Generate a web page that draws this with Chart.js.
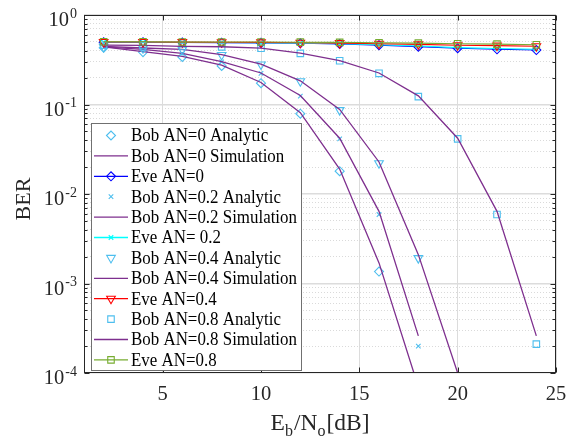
<!DOCTYPE html>
<html><head><meta charset="utf-8">
<style>html,body{margin:0;padding:0;background:#fff;overflow:hidden}</style>
<script src="https://cdn.jsdelivr.net/npm/chart.js@4/dist/chart.umd.min.js"></script>
</head><body>
<canvas id="c" width="580" height="443" style="width:580px;height:443px;display:block"></canvas>
<script>
// ---- data ----
const snr = [2, 4, 6, 8, 10, 12, 14, 16, 18, 20, 22, 24];
const bobAnalytic0  = [0.43, 0.385, 0.34, 0.27, 0.173, 0.079, 0.018, 0.00136, null, null, null, null];
const bobSim0       = [0.44, 0.39, 0.345, 0.275, 0.176, 0.081, 0.019, 0.0017, 0.00007, null, null, null];
const eve0          = [0.495, 0.495, 0.493, 0.49, 0.488, 0.483, 0.475, 0.46, 0.443, 0.425, 0.414, 0.406];
const bobAnalytic02 = [0.436, 0.41, 0.37, 0.30, 0.223, 0.124, 0.0413, 0.0059, 0.0002, null, null, null];
const bobSim02      = [0.44, 0.412, 0.372, 0.302, 0.225, 0.126, 0.042, 0.0064, 0.00026, null, null, null];
const eve02         = [0.497, 0.497, 0.495, 0.493, 0.49, 0.485, 0.478, 0.465, 0.45, 0.432, 0.422, 0.415];
const bobAnalytic04 = [0.44, 0.425, 0.41, 0.358, 0.28, 0.182, 0.0865, 0.0221, 0.00192, null, null, null];
const bobSim04      = [0.445, 0.428, 0.412, 0.36, 0.282, 0.184, 0.088, 0.0228, 0.0021, 0.0001, null, null];
const eve04         = [0.5, 0.5, 0.498, 0.497, 0.495, 0.49, 0.485, 0.477, 0.47, 0.46, 0.455, 0.448];
const bobAnalytic08 = [0.46, 0.455, 0.445, 0.44, 0.425, 0.373, 0.308, 0.223, 0.1225, 0.0413, 0.0059, 0.00021];
const bobSim08      = [0.46, 0.457, 0.447, 0.442, 0.427, 0.375, 0.31, 0.225, 0.125, 0.042, 0.0064, 0.00026];
const eve08         = [0.502, 0.502, 0.5, 0.5, 0.5, 0.497, 0.494, 0.49, 0.485, 0.478, 0.473, 0.466];

const seriesLabels = ['Bob AN=0 Analytic', 'Bob AN=0 Simulation', 'Eve AN=0',
  'Bob AN=0.2 Analytic', 'Bob AN=0.2 Simulation', 'Eve AN= 0.2',
  'Bob AN=0.4 Analytic', 'Bob AN=0.4 Simulation', 'Eve AN=0.4',
  'Bob AN=0.8 Analytic', 'Bob AN=0.8 Simulation', 'Eve AN=0.8'];
const xTicks = [5, 10, 15, 20, 25];
const yDecadeExponents = [-4, -3, -2, -1, 0];
const yMinorMultipliers = [2, 3, 4, 5, 6, 7, 8, 9];

// ---- styles ----
const FONT = "'Liberation Serif','Times New Roman',serif";
const LIGHTBLUE = '#4DBEEE', PURPLE = '#7E2F8E';
function pts(arr) { return snr.map((x, i) => ({x: x, y: arr[i]})).filter(p => p.y !== null); }

const defs = [
  {data: bobAnalytic0, kind: 'marker', color: LIGHTBLUE, style: 'rectRot', r: 4.5, rot: 0},
  {data: bobSim0, kind: 'line', color: PURPLE},
  {data: eve0, kind: 'both', color: '#0000FF', style: 'rectRot', r: 4.5, rot: 0},
  {data: bobAnalytic02, kind: 'marker', color: LIGHTBLUE, style: 'crossRot', r: 3.2, rot: 0},
  {data: bobSim02, kind: 'line', color: PURPLE},
  {data: eve02, kind: 'both', color: '#00FFFF', style: 'crossRot', r: 3.2, rot: 0},
  {data: bobAnalytic04, kind: 'marker', color: LIGHTBLUE, style: 'triangle', r: 5, rot: 180},
  {data: bobSim04, kind: 'line', color: PURPLE},
  {data: eve04, kind: 'both', color: '#FF0000', style: 'triangle', r: 5, rot: 180},
  {data: bobAnalytic08, kind: 'marker', color: LIGHTBLUE, style: 'rect', r: 4.6, rot: 0},
  {data: bobSim08, kind: 'line', color: PURPLE},
  {data: eve08, kind: 'both', color: '#77AC30', style: 'rect', r: 4.6, rot: 0}
];

const datasets = defs.map((d, i) => ({
  label: seriesLabels[i],
  data: pts(d.data),
  showLine: d.kind !== 'marker',
  borderColor: d.color,
  backgroundColor: 'rgba(0,0,0,0)',
  borderWidth: d.kind === 'line' ? 1.3 : 1.1,
  pointRadius: d.kind === 'line' ? 0 : d.r,
  pointStyle: d.style || 'circle',
  pointRotation: d.rot || 0,
  pointBorderColor: d.color,
  pointBackgroundColor: 'rgba(0,0,0,0)',
  pointBorderWidth: 1.1,
  tension: 0,
  order: defs.length - i
}));

function isMajor(v) { const l = Math.log10(v); return Math.abs(l - Math.round(l)) < 1e-9; }

function drawPointMarker(ctx, style, r, rot, x, y, color) {
  ctx.save();
  ctx.strokeStyle = color; ctx.lineWidth = 1.1;
  if (Chart.helpers && Chart.helpers.drawPoint) {
    ctx.fillStyle = 'rgba(0,0,0,0)';
    Chart.helpers.drawPoint(ctx, {pointStyle: style, radius: r, rotation: rot, borderWidth: 1.1}, x, y);
  }
  ctx.restore();
}

const decorPlugin = {
  id: 'decor',
  afterDraw(chart) {
    const ctx = chart.ctx, ca = chart.chartArea, xs = chart.scales.x, ys = chart.scales.y;
    const L = Math.round(ca.left) + 0.5, R = Math.round(ca.right) - 0.5;
    const T = Math.round(ca.top) + 0.5, B = Math.round(ca.bottom) - 0.5;
    ctx.save();
    // box
    ctx.strokeStyle = '#262626'; ctx.lineWidth = 1; ctx.setLineDash([]);
    ctx.strokeRect(L, T, R - L, B - T);
    // y ticks (inward)
    ys.ticks.forEach(t => {
      const py = Math.round(ys.getPixelForValue(t.value)) + 0.5;
      const len = isMajor(t.value) ? 5 : 3;
      ctx.beginPath();
      ctx.moveTo(L, py); ctx.lineTo(L + len, py);
      ctx.moveTo(R, py); ctx.lineTo(R - len, py);
      ctx.stroke();
    });
    // x ticks
    xTicks.forEach(v => {
      const px = Math.round(xs.getPixelForValue(v)) + 0.5;
      ctx.beginPath();
      ctx.moveTo(px, B); ctx.lineTo(px, B - 5);
      ctx.moveTo(px, T); ctx.lineTo(px, T + 5);
      ctx.stroke();
    });
    ctx.fillStyle = '#262626';
    // x tick labels
    ctx.font = '20.5px ' + FONT; ctx.textAlign = 'center'; ctx.textBaseline = 'middle';
    xTicks.forEach(v => { ctx.fillText(String(v), xs.getPixelForValue(v), ca.bottom + 22); });
    // y tick labels 10^e
    yDecadeExponents.forEach(e => {
      const py = ys.getPixelForValue(Math.pow(10, e));
      const expTxt = String(e);
      ctx.font = '14px ' + FONT; ctx.textAlign = 'right'; ctx.textBaseline = 'middle';
      const ew = ctx.measureText(expTxt).width;
      const rightX = ca.left - 7;
      ctx.fillText(expTxt, rightX, py - 1);
      ctx.font = '20.5px ' + FONT;
      ctx.fillText('10', rightX - ew - 1, py + 6);
    });
    // y title
    ctx.save();
    ctx.translate(24, 199); ctx.rotate(-Math.PI / 2);
    ctx.font = '22px ' + FONT; ctx.textAlign = 'center'; ctx.textBaseline = 'middle';
    ctx.fillText('BER', 0, 0);
    ctx.restore();
    // x title E_b/N_o[dB]
    const parts = [['E', 23.5, 0], ['b', 16, 6], ['/N', 23.5, 0], ['o', 16, 6], ['[dB]', 23.5, 0]];
    let tw = 0;
    parts.forEach(p => { ctx.font = p[1] + 'px ' + FONT; tw += ctx.measureText(p[0]).width + (p[1] < 20 ? 1 : 0); });
    let cx = (ca.left + ca.right) / 2 - tw / 2;
    ctx.textAlign = 'left'; ctx.textBaseline = 'alphabetic';
    parts.forEach(p => {
      ctx.font = p[1] + 'px ' + FONT;
      ctx.fillText(p[0], cx, 430 + p[2]);
      cx += ctx.measureText(p[0]).width + (p[1] < 20 ? 1 : 0);
    });
    // legend
    const lx = 91, ly = 123, lw = 210, lh = 247;
    ctx.fillStyle = '#ffffff';
    ctx.fillRect(lx, ly, lw, lh);
    ctx.strokeStyle = '#707070'; ctx.lineWidth = 1;
    ctx.strokeRect(lx + 0.5, ly + 0.5, lw, lh);
    const rowH = 20.4;
    defs.forEach((d, i) => {
      const cy = ly + 12.5 + i * rowH;
      if (d.kind !== 'marker') {
        ctx.strokeStyle = d.color; ctx.lineWidth = 1.3;
        ctx.beginPath(); ctx.moveTo(94, cy); ctx.lineTo(128, cy); ctx.stroke();
      }
      if (d.kind !== 'line') drawPointMarker(ctx, d.style, d.r, d.rot, 111, cy, d.color);
      ctx.fillStyle = '#000000';
      ctx.save();
      ctx.translate(131, cy + 1);
      ctx.scale(0.89, 1);
      ctx.font = '19px ' + FONT; ctx.textAlign = 'left'; ctx.textBaseline = 'middle';
      ctx.fillText(seriesLabels[i], 0, 0);
      ctx.restore();
    });
    ctx.restore();
  }
};

new Chart(document.getElementById('c'), {
  type: 'scatter',
  data: {datasets: datasets},
  options: {
    responsive: false,
    animation: false,
    devicePixelRatio: 1,
    layout: {padding: {left: 0, right: 24, top: 15, bottom: 0}},
    plugins: {legend: {display: false}, tooltip: {enabled: false}},
    scales: {
      x: {
        type: 'linear', min: 1, max: 25,
        afterBuildTicks: axis => { axis.ticks = xTicks.map(v => ({value: v})); },
        afterFit: s => { s.height = 70; },
        ticks: {display: false},
        grid: {color: '#dcdcdc', lineWidth: 1, drawTicks: false},
        border: {display: false}
      },
      y: {
        type: 'logarithmic', min: 1e-4, max: 1,
        afterBuildTicks: axis => {
          const t = [];
          yDecadeExponents.forEach(e => {
            t.push({value: Math.pow(10, e), major: true});
            if (e < 0) yMinorMultipliers.forEach(m => t.push({value: m * Math.pow(10, e), major: false}));
          });
          t.sort((a, b) => a.value - b.value);
          axis.ticks = t;
        },
        afterFit: s => { s.width = 84; },
        ticks: {display: false, autoSkip: false},
        grid: {
          drawTicks: false,
          color: c => (c.tick && isMajor(c.tick.value)) ? '#dcdcdc' : '#dadada',
          lineWidth: c => (c.tick && isMajor(c.tick.value)) ? 1.5 : 1
        },
        border: {
          display: false,
          dash: c => (c.tick && !isMajor(c.tick.value)) ? [1, 2] : []
        }
      }
    }
  },
  plugins: [decorPlugin]
});
</script>
</body></html>
